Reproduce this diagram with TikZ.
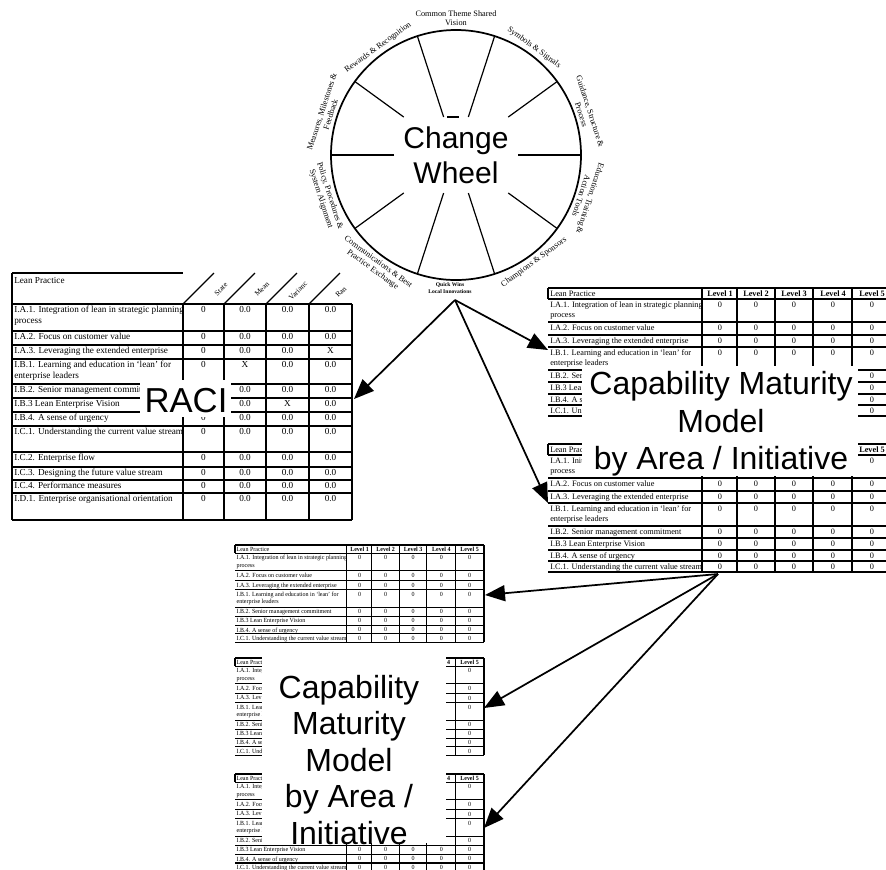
\documentclass[tikz,border=0pt]{standalone}
\usepackage{fontspec}
\setmainfont{Liberation Serif}
\newfontfamily\labelsans{Liberation Sans}
\usetikzlibrary{arrows.meta}

\tikzset{
  rule/.style={line width=0.85pt},
  spoke/.style={line width=0.9pt},
  rimline/.style={line width=1.3pt},
  racitext/.style={font=\fontsize{6.9}{8.3}\selectfont, inner sep=0pt, align=left},
  racival/.style={font=\fontsize{6.9}{8.3}\selectfont, inner sep=0pt},
  racihead/.style={font=\fontsize{5.6}{6}\selectfont, inner sep=0pt, rotate=45},
  cmmtext/.style={font=\fontsize{6.2}{7.5}\selectfont, inner sep=0pt, align=left},
  cmmhead/.style={font=\bfseries\fontsize{6.2}{7.5}\selectfont, inner sep=0pt},
  biglabel/.style={font=\labelsans\fontsize{24}{28}\selectfont, align=center, inner sep=0pt},
  cover/.style={fill=white, draw=none},
  rimtext/.style={font=\fontsize{6.2}{7}\selectfont, align=center, inner sep=0.5pt},
  feed/.style={line width=1.3pt, -{Triangle[length=15pt,width=12pt]}},
}

% capability maturity table, local pixel coordinates, origin at its top left corner
\newcommand\cmmlines{%
  \draw[rule] (0,0) -- (344,0) (0,0) -- (0,11);
  \foreach \yy in {11,34,47,59,82,94,106,117,128} \draw[rule] (0,\yy) -- (344,\yy);
  \foreach \xx in {154,189,227,265,304,344} \draw[rule] (\xx,0) -- (\xx,128);
}
% #1 prefix, #2 text of the first header cell
\newcommand\cmmcorner[2]{\node[cmmtext, anchor=west] (#1-head) at (2,5.5) {#2};}
% #1 prefix, #2 list of level/centre
\newcommand\cmmlevels[2]{\foreach \k/\xx in {#2} \node[cmmhead] (#1-lev\k) at (\xx,5.5) {Level \k};}
% #1 prefix, #2 list of rowtop/text
\newcommand\cmmrows[2]{\foreach \yy/\txt in {#2} \node[cmmtext, anchor=north west] (#1-t\yy) at (2,\yy+2.5) {\txt};}
% #1 prefix, #2 list of row tops, #3 list of column centres
\newcommand\cmmzeros[3]{\foreach \yy in {#2} \foreach \xx in {#3} \node[cmmtext, anchor=north] (#1-z\yy-\xx) at (\xx,\yy+2.5) {0};}

\begin{document}
\begin{tikzpicture}[x=0.75pt,y=-0.75pt]
\useasboundingbox (0,0) rectangle (886,869);

% ---------------- change wheel ----------------
\begin{scope}[shift={(456,155)}, y=0.75pt]
  \draw[rimline] (0,0) circle [radius=125];
  \foreach \a/\r in {0/62,36/64.6,72/40,108/40,144/64.6,180/62,216/64.6,252/40,288/40,324/64.6}
    \draw[spoke] (\a:\r) -- (\a:125);
  \draw[spoke] (-9,38) -- (3,38);
  \node[font=\labelsans\fontsize{22.5}{26.25}\selectfont, align=center, inner sep=0pt] (cw) at (0,0) {Change\\Wheel};
  \node[rimtext, anchor=south] (lab-vision) at (90:128) {Common Theme Shared\\Vision};
  \node[rimtext, anchor=south, rotate=-36] (lab-symbols) at (54:128) {Symbols \& Signals};
  \node[rimtext, anchor=south, rotate=-72] (lab-guidance) at (18:128) {Guidance, Structure \&\\Process};
  \node[rimtext, anchor=south, rotate=-108] (lab-education) at (-18:128) {Education, Training \&\\Action Tools};
  \node[rimtext, anchor=north, rotate=36] (lab-champions) at (-54:128) {Champions \& Sponsors};
  \node[rimtext, anchor=north, font=\bfseries\fontsize{4.2}{5.2}\selectfont] (lab-quick) at (-6,-127) {Quick Wins\\Local Innovations};
  \node[rimtext, anchor=north, rotate=-36] (lab-comms) at (-126:128) {Communications \& Best\\Practice Exchange};
  \node[rimtext, anchor=north, rotate=-72] (lab-policy) at (-162:128) {Policy, Procedures \&\\System Alignment};
  \node[rimtext, anchor=south, rotate=72] (lab-measures) at (162:128) {Measures, Milestones \&\\Feedback};
  \node[rimtext, anchor=south, rotate=36] (lab-rewards) at (126:128) {Rewards \& Recognition};
\end{scope}

% ---------------- RACI table ----------------
\draw[rule] (12,273) -- (183,273);
\draw[rule] (12,273) -- (12,520);
\foreach \yy in {304,331,345,359,384,398,412,426,452,467,480,493,520}
  \draw[rule] (12,\yy) -- (352,\yy);
\foreach \xx in {183,224,266,309,352}
  \draw[rule] (\xx,304) -- (\xx,520);
\foreach \xx in {183,224,266,309}
  \draw[rule] (\xx,304) -- ++(31,-31);
\node[racitext, anchor=north west] (raci-head) at (14,277) {Lean Practice};
\node[racihead] (raci-state) at (221,289) {State};
\node[racihead] (raci-mean) at (262,289) {Mean};
\node[racihead] (raci-var) at (298,291) {Varianc};
\node[racihead] (raci-range) at (341,292) {Ran};
\foreach \ry/\txt [count=\i] in {
  304/{I.A.1. Integration of lean in strategic planning\\process},
  331/{I.A.2. Focus on customer value},
  345/{I.A.3. Leveraging the extended enterprise},
  359/{I.B.1. Learning and education in ‘lean’ for\\enterprise leaders},
  384/{I.B.2. Senior management commitm},
  398/{I.B.3 Lean Enterprise Vision},
  412/{I.B.4. A sense of urgency},
  426/{I.C.1. Understanding the current value stream},
  452/{I.C.2. Enterprise flow},
  467/{I.C.3. Designing the future value stream},
  480/{I.C.4. Performance measures},
  493/{I.D.1. Enterprise organisational orientation}}
  \node[racitext, anchor=north west] (raci-t\i) at (14,\ry+2) {\txt};
% state column (two cells sit under the title panel)
\foreach \ry in {304,331,345,359,412,426,452,467,480,493}
  \node[racival, anchor=north] (raci-s\ry) at (203.5,\ry+2.5) {0};
% mean, variance and range columns
\foreach \ry/\vb/\vc/\vd in {
  304/0.0/0.0/0.0, 331/0.0/0.0/0.0, 345/0.0/0.0/X, 359/X/0.0/0.0,
  384/0.0/0.0/0.0, 398/0.0/X/0.0, 412/0.0/0.0/0.0, 426/0.0/0.0/0.0,
  452/0.0/0.0/0.0, 467/0.0/0.0/0.0, 480/0.0/0.0/0.0, 493/0.0/0.0/0.0} {
  \node[racival, anchor=north] (raci-m\ry) at (245,\ry+2.5) {\vb};
  \node[racival, anchor=north] (raci-v\ry) at (287.5,\ry+2.5) {\vc};
  \node[racival, anchor=north] (raci-r\ry) at (330.5,\ry+2.5) {\vd};
}

% ---------------- capability maturity tables ----------------
\begin{scope}[shift={(548,288)}]
  \cmmlines
  \cmmcorner{cmmA}{Lean Practice}
  \cmmlevels{cmmA}{1/172,2/208,3/246,4/285,5/324}
  \cmmrows{cmmA}{11/{I.A.1. Integration of lean in strategic planning\\process},
    34/{I.A.2. Focus on customer value}, 47/{I.A.3. Leveraging the extended enterprise},
    59/{I.B.1. Learning and education in ‘lean’ for\\enterprise leaders},
    82/{I.B.2. Sen}, 94/{I.B.3 Lea}, 106/{I.B.4. A s}, 117/{I.C.1. Un}}
  \cmmzeros{cmmA}{11,34,47,59}{172,208,246,285,324}
  \cmmzeros{cmmA}{82,94,106,117}{324}
\end{scope}
\begin{scope}[shift={(548,444)}]
  \cmmlines
  \cmmcorner{cmmB}{Lean Prac}
  \cmmlevels{cmmB}{5/324}
  \cmmrows{cmmB}{11/{I.A.1. Init\\process},
    34/{I.A.2. Focus on customer value}, 47/{I.A.3. Leveraging the extended enterprise},
    59/{I.B.1. Learning and education in ‘lean’ for\\enterprise leaders},
    82/{I.B.2. Senior management commitment}, 94/{I.B.3 Lean Enterprise Vision},
    106/{I.B.4. A sense of urgency}, 117/{I.C.1. Understanding the current value stream}}
  \cmmzeros{cmmB}{11}{324}
  \cmmzeros{cmmB}{34,47,59,82,94,106,117}{172,208,246,285,324}
\end{scope}
\begin{scope}[shift={(235,545)}, xscale=0.724, yscale=0.76, transform shape]
  \cmmlines
  \cmmcorner{cmmC}{Lean Practice}
  \cmmlevels{cmmC}{1/172,2/208,3/246,4/285,5/324}
  \cmmrows{cmmC}{11/{I.A.1. Integration of lean in strategic planning\\process},
    34/{I.A.2. Focus on customer value}, 47/{I.A.3. Leveraging the extended enterprise},
    59/{I.B.1. Learning and education in ‘lean’ for\\enterprise leaders},
    82/{I.B.2. Senior management commitment}, 94/{I.B.3 Lean Enterprise Vision},
    106/{I.B.4. A sense of urgency}, 117/{I.C.1. Understanding the current value stream}}
  \cmmzeros{cmmC}{11,34,47,59,82,94,106,117}{172,208,246,285,324}
\end{scope}
\begin{scope}[shift={(235,658)}, xscale=0.724, yscale=0.76, transform shape]
  \cmmlines
  \cmmcorner{cmmD}{Lean Practi}
  \node[cmmhead] (cmmD-lev4) at (295,5.5) {4};
  \cmmlevels{cmmD}{5/324}
  \cmmrows{cmmD}{11/{I.A.1. Integ\\process}, 34/{I.A.2. Focu}, 47/{I.A.3. Lev},
    59/{I.B.1. Lear\\enterprise l}, 82/{I.B.2. Seni}, 94/{I.B.3 Lean}, 106/{I.B.4. A se}, 117/{I.C.1. Unde}}
  \cmmzeros{cmmD}{11,34,47,59,82,94,106,117}{324}
\end{scope}
\begin{scope}[shift={(235,774)}, xscale=0.724, yscale=0.76, transform shape]
  \cmmlines
  \cmmcorner{cmmE}{Lean Practi}
  \node[cmmhead] (cmmE-lev4) at (295,5.5) {4};
  \cmmlevels{cmmE}{5/324}
  \cmmrows{cmmE}{11/{I.A.1. Integ\\process}, 34/{I.A.2. Focu}, 47/{I.A.3. Lev},
    59/{I.B.1. Lear\\enterprise l}, 82/{I.B.2. Seni}, 94/{I.B.3 Lean Enterprise Vision},
    106/{I.B.4. A sense of urgency}, 117/{I.C.1. Understanding the current value stream}}
  \cmmzeros{cmmE}{11,34,47,59,82}{324}
  \cmmzeros{cmmE}{94,106,117}{172,208,246,285,324}
\end{scope}

% ---------------- title panels ----------------
\fill[cover] (140,380) rectangle (231,417);
\node[biglabel, font=\labelsans\fontsize{26}{30}\selectfont] (raci-title) at (186,401) {RACI};
\fill[cover] (582,366) rectangle (858,476);
\node[biglabel] (cmm-title-a) at (721,424) {Capability Maturity\\Model\\by Area / Initiative};
\fill[cover] (262,650) rectangle (446,843);
\node[biglabel, font=\labelsans\fontsize{24}{27.4}\selectfont] (cmm-title-b) at (349,760) {Capability\\Maturity\\Model\\by Area /\\Initiative};

% ---------------- connectors ----------------
\coordinate (qw) at (455,300);
\coordinate (to-raci) at (354,399);
\coordinate (to-cmmA) at (548,350);
\coordinate (to-cmmB) at (548,503);
\coordinate (from-cmm) at (718,574);
\coordinate (to-cmmC) at (485,595);
\coordinate (to-cmmD) at (484,708);
\coordinate (to-cmmE) at (484,828);
\draw[feed] (qw) -- (to-raci);
\draw[feed] (qw) -- (to-cmmA);
\draw[feed] (qw) -- (to-cmmB);
\draw[feed] (from-cmm) -- (to-cmmC);
\draw[feed] (from-cmm) -- (to-cmmD);
\draw[feed] (from-cmm) -- (to-cmmE);
\end{tikzpicture}
\end{document}
